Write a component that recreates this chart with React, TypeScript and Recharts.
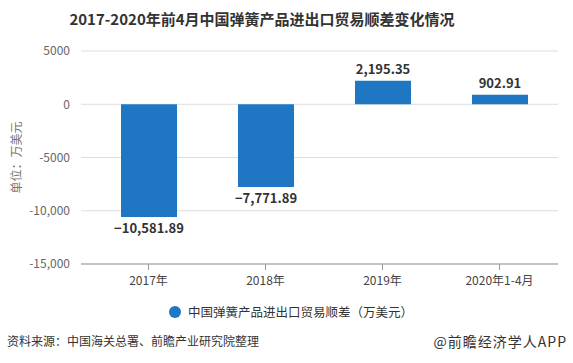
import { BarChart, Bar, XAxis, YAxis, CartesianGrid, LabelList } from 'recharts'

const categories = ['2017年', '2018年', '2019年', '2020年1-4月']
const surplus = [-10581.89, -7771.89, 2195.35, 902.91]
const yTicks = [5000, 0, -5000, -10000, -15000]

const data = categories.map((name, i) => ({ name, value: surplus[i] }))

const BLUE = '#1f77c3'
const FONT = '"Microsoft YaHei", "Noto Sans CJK SC", "Noto Sans", sans-serif'

const fmtTick = (v: number) => (Math.abs(v) >= 10000 ? v.toLocaleString('en-US') : String(v))
const fmtLabel = (v: number) =>
  (v < 0 ? '−' : '') + Math.abs(v).toLocaleString('en-US', { minimumFractionDigits: 2, maximumFractionDigits: 2 })

function ValueLabel(props: any) {
  const { x, y, width, height, value } = props
  const top = Math.min(y, y + height)
  const bottom = Math.max(y, y + height)
  const ty = value < 0 ? bottom + 16 : top - 7
  return (
    <text x={x + width / 2} y={ty} textAnchor="middle" fontSize={13} fontWeight="bold" fill="#333" fontFamily={FONT}>
      {fmtLabel(value)}
    </text>
  )
}

export default function App() {
  return (
    <div style={{ position: 'absolute', left: 0, top: 0, width: 573, height: 363, background: '#fff', fontFamily: FONT }}>
      <div style={{ position: 'absolute', top: 8, left: 0, width: 524, textAlign: 'center', fontSize: 15, fontWeight: 'bold', color: '#333' }}>
        2017-2020年前4月中国弹簧产品进出口贸易顺差变化情况
      </div>
      <div style={{ position: 'absolute', left: 0, top: 0 }}>
        <BarChart width={573} height={363} data={data} margin={{ top: 51, right: 15, bottom: 69, left: 0 }}>
          <CartesianGrid vertical={false} stroke="#ddd" />
          <XAxis
            dataKey="name"
            height={30}
            padding={{ left: 9, right: 0 }}
            axisLine={{ stroke: '#999' }}
            tickLine={{ stroke: '#999' }}
            tick={{ fontSize: 12, fill: '#444', fontFamily: FONT }}
            tickMargin={6}
          />
          <YAxis
            width={81}
            domain={[-15000, 5000]}
            ticks={yTicks}
            tickFormatter={fmtTick}
            axisLine={false}
            tickLine={false}
            tickMargin={5}
            tick={{ fontSize: 12, fill: '#666', fontFamily: FONT }}
            label={{ value: '单位：万美元', angle: -90, position: 'insideLeft', offset: 17, style: { fontSize: 12, fill: '#777', textAnchor: 'middle' } }}
          />
          <Bar dataKey="value" fill={BLUE} barSize={56} isAnimationActive={false}>
            <LabelList dataKey="value" content={ValueLabel} />
          </Bar>
        </BarChart>
      </div>
      <div style={{ position: 'absolute', top: 302, left: 169, display: 'flex', alignItems: 'center', fontSize: 12.5, color: '#333' }}>
        <span style={{ width: 12, height: 12, borderRadius: 6, background: BLUE, display: 'inline-block', marginRight: 7 }} />
        中国弹簧产品进出口贸易顺差（万美元）
      </div>
      <div style={{ position: 'absolute', top: 332, left: 7, fontSize: 12, color: '#333' }}>
        资料来源：中国海关总署、前瞻产业研究院整理
      </div>
      <div style={{ position: 'absolute', top: 331, right: 6, fontSize: 14, letterSpacing: 1, color: '#333' }}>
        @前瞻经济学人APP
      </div>
    </div>
  )
}
